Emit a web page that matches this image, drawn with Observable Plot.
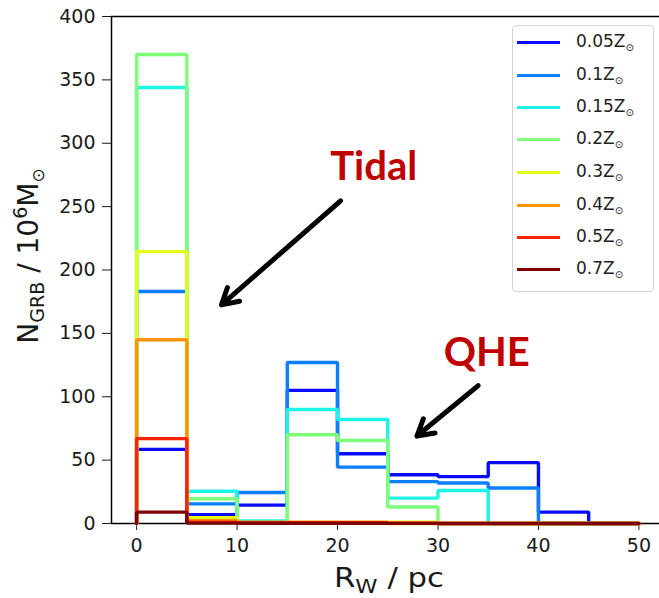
<!DOCTYPE html>
<html>
<head>
<meta charset="utf-8">
<script src="https://cdn.jsdelivr.net/npm/d3@7"></script>
<script src="https://cdn.jsdelivr.net/npm/@observablehq/plot@0.6"></script>
<style>
  html, body { margin: 0; padding: 0; background: white; }
  #wrap { position: relative; width: 659px; height: 598px; overflow: hidden; font-family: "DejaVu Sans", sans-serif; }
  #legend { position: absolute; left: 512px; top: 25px; width: 142px; height: 267px; border: 1px solid #d4d4d4; border-radius: 4px; background: rgba(255,255,255,0.8); box-sizing: border-box; }
  .row { position: absolute; left: 0; height: 20px; width: 141px; }
  .row .swatch { position: absolute; left: 4px; top: 9px; width: 43px; height: 3px; }
  .row .lab { position: absolute; left: 63px; top: -1px; font-size: 17px; color: #222; white-space: nowrap; line-height: 20px; }
  .row .lab sub { font-size: 10px; vertical-align: -4px; }
</style>
</head>
<body>
<div id="wrap"></div>
<script>
// ---- data ----
const binEdges = [0, 5, 10, 15, 20, 25, 30, 35, 40, 45, 50];
const seriesLabels = ["0.05", "0.1", "0.15", "0.2", "0.3", "0.4", "0.5", "0.7"];
const seriesColors = ["#0a0aff", "#0a80ff", "#1cf5e6", "#7dff7a", "#e2ff1a", "#ff9400", "#ff2200", "#800000"];
const z005 = [58.5, 7, 14.5, 105, 55, 38.5, 37, 48, 9, 0];
const z010 = [183, 15.5, 24.5, 127, 44.5, 33, 32, 28, 0, 0];
const z015 = [344, 25.5, 2, 90, 82, 20, 26, 0, 0, 0];
const z020 = [370, 19.5, 0.5, 70, 65.5, 13, 0, 0, 0, 0];
const z030 = [214.5, 4.5, 0.5, 0.5, 0.5, 1, 0, 0, 0, 0];
const z040 = [145, 2.5, 1, 1, 1, 0, 0, 0, 0, 0];
const z050 = [67, 1, 0.5, 0.5, 0.5, 0.3, 0, 0, 0, 0];
const z070 = [9, 0.3, 0.2, 0.2, 0.2, 0.1, 0, 0, 0, 0];
const seriesValues = [z005, z010, z015, z020, z030, z040, z050, z070];

const xTicks = [0, 10, 20, 30, 40, 50];
const yTicks = [0, 50, 100, 150, 200, 250, 300, 350, 400];

const annotLabels = ["Tidal", "QHE"];
const annotX = [23.6, 34.85];
const annotY = [281.5, 134.5];
const arrowFrom = [[20.3, 254.5], [34.0, 108.8]];
const arrowTo = [[8.45, 172.5], [27.9, 69.0]];

// ---- build step outlines (matplotlib histtype="step") ----
function stepPoints(vals) {
  const pts = [{x: binEdges[0], y: 0}];
  vals.forEach((v, i) => pts.push({x: binEdges[i], y: v}));
  pts.push({x: binEdges[binEdges.length - 1], y: 0});
  return pts;
}

const lineMarks = seriesValues.map((vals, i) =>
  Plot.line(stepPoints(vals), {
    x: "x", y: "y", curve: "step-after",
    stroke: seriesColors[i], strokeWidth: 3.4, strokeLinejoin: "miter"
  })
);

const annots = annotLabels.map((t, i) => ({text: t, x: annotX[i], y: annotY[i]}));
const arrows = arrowFrom.map((f, i) => ({x1: f[0], y1: f[1], x2: arrowTo[i][0], y2: arrowTo[i][1]}));

const chart = Plot.plot({
  width: 659, height: 598,
  marginLeft: 111, marginRight: 0, marginTop: 16, marginBottom: 75,
  x: {domain: [-2.5, 52.05]},
  y: {domain: [0, 400]},
  style: {fontFamily: "DejaVu Sans", fontSize: "19px", color: "#1a1a1a", background: "white"},
  marks: [
    Plot.axisX({ticks: xTicks, tickSize: 7, tickPadding: 8, label: null, fontSize: 19}),
    Plot.axisY({ticks: yTicks, tickSize: 9, tickPadding: 7, label: null, fontSize: 19}),
    Plot.ruleX([-2.5], {stroke: "black", strokeWidth: 1.5}),
    Plot.ruleY([400], {stroke: "black", strokeWidth: 1.5}),
    Plot.ruleY([0], {stroke: "black", strokeWidth: 1.5}),
    ...lineMarks,
    Plot.arrow(arrows, {x1: "x1", y1: "y1", x2: "x2", y2: "y2", stroke: "black", strokeWidth: 5, headLength: 5.5, headAngle: 60}),
    Plot.text(annots, {x: "x", y: "y", text: "text", fill: "#c00000", fontSize: 40, fontWeight: "bold", fontFamily: "Lato", textAnchor: "middle"})
  ]
});

const wrap = document.getElementById("wrap");
wrap.appendChild(chart);

// ---- axis labels with sub/superscripts ----
const svg = d3.select(chart);
const xl = svg.append("text")
  .attr("x", 389).attr("y", 587)
  .attr("text-anchor", "middle")
  .attr("textLength", 110).attr("lengthAdjust", "spacingAndGlyphs")
  .attr("font-family", "DejaVu Sans").attr("font-size", 26).attr("fill", "#1a1a1a");
xl.append("tspan").text("R");
xl.append("tspan").attr("font-size", 19).attr("dy", 6).text("W");
xl.append("tspan").attr("dy", -6).text(" / pc");

const yl = svg.append("text")
  .attr("transform", "translate(38,256) rotate(-90)")
  .attr("text-anchor", "middle")
  .attr("font-family", "DejaVu Sans").attr("font-size", 28).attr("fill", "#1a1a1a");
yl.append("tspan").text("N");
yl.append("tspan").attr("font-size", 19).attr("dy", 6).text("GRB");
yl.append("tspan").attr("dy", -6).text(" / 10");
yl.append("tspan").attr("font-size", 19).attr("dy", -11).text("6");
yl.append("tspan").attr("dy", 11).text("M");
yl.append("tspan").attr("font-size", 17).attr("dy", 6).text("⊙");

// ---- legend ----
const legend = document.createElement("div");
legend.id = "legend";
const rowTops = [41, 74.3, 106.7, 138.5, 171, 204, 236, 268.3];
seriesLabels.forEach((lab, i) => {
  const row = document.createElement("div");
  row.className = "row";
  row.style.top = (rowTops[i] - 25 - 10.5) + "px";
  const sw = document.createElement("div");
  sw.className = "swatch";
  sw.style.background = seriesColors[i];
  const tx = document.createElement("div");
  tx.className = "lab";
  tx.innerHTML = lab + "Z<sub>⊙</sub>";
  row.appendChild(sw);
  row.appendChild(tx);
  legend.appendChild(row);
});
wrap.appendChild(legend);
</script>
</body>
</html>
